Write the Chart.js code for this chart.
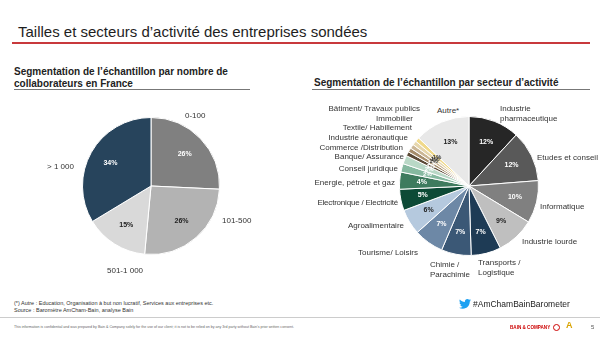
<!DOCTYPE html>
<html>
<head>
<meta charset="utf-8">
<script src="https://cdn.jsdelivr.net/npm/chart.js@4"></script>
<style>
  body{margin:0;width:600px;height:337px;background:#fff;font-family:"Liberation Sans",Arial,sans-serif;position:relative;overflow:hidden;color:#222}
  .abs{position:absolute;white-space:nowrap}
  .lab{position:absolute;white-space:nowrap;font-size:8px;line-height:9.5px;color:#333}
  .r{text-align:right}
  canvas{position:absolute}
</style>
</head>
<body>
<div class="abs" style="left:18px;top:23px;font-size:15px;color:#1e1e1e">Tailles et secteurs d’activité des entreprises sondées</div>
<div class="abs" style="left:12px;top:42px;width:578px;height:1.5px;background:#c8393c"></div>

<div class="abs" style="left:14px;top:66px;font-size:10px;font-weight:bold;line-height:11.5px">Segmentation de l’échantillon par nombre de<br>collaborateurs en France</div>
<div class="abs" style="left:14px;top:89px;width:236px;height:1px;background:#777"></div>
<div class="abs" style="left:314px;top:77px;font-size:10px;font-weight:bold">Segmentation de l’échantillon par secteur d’activité</div>
<div class="abs" style="left:312px;top:89px;width:278px;height:1px;background:#777"></div>

<canvas id="sizePie" width="138" height="138" style="left:82px;top:117px"></canvas>
<canvas id="sectorPie" width="140" height="140" style="left:399px;top:116px"></canvas>

<!-- left pie labels -->
<div class="lab" style="left:185px;top:111px">0-100</div>
<div class="lab" style="left:222px;top:216px">101-500</div>
<div class="lab" style="left:107px;top:266px">501-1 000</div>
<div class="lab" style="left:47px;top:162px">&gt; 1 000</div>

<!-- right pie labels -->
<div class="lab" style="left:437px;top:106px">Autre*</div>
<div class="lab" style="left:500px;top:104px">Industrie<br>pharmaceutique</div>
<div class="lab" style="left:537px;top:153px">Etudes et conseil</div>
<div class="lab" style="left:540px;top:202px">Informatique</div>
<div class="lab" style="left:522px;top:237px">Industrie lourde</div>
<div class="lab" style="left:478px;top:258px">Transports /<br>Logistique</div>
<div class="lab" style="left:430px;top:260px">Chimie /<br>Parachimie</div>
<div class="lab r" style="right:182px;top:248px">Tourisme/ Loisirs</div>
<div class="lab r" style="right:196px;top:221px">Agroalimentaire</div>
<div class="lab r" style="right:202px;top:198px;letter-spacing:-0.2px">Electronique / Electricité</div>
<div class="lab r" style="right:205px;top:178px">Energie, pétrole et gaz</div>
<div class="lab r" style="right:202px;top:164px">Conseil juridique</div>
<div class="lab r" style="right:196px;top:152px">Banque/ Assurance</div>
<div class="lab r" style="right:197px;top:143px">Commerce /Distribution</div>
<div class="lab r" style="right:192px;top:133px">Industrie aéronautique</div>
<div class="lab r" style="right:188px;top:123px">Textile/ Habillement</div>
<div class="lab r" style="right:187px;top:114px">Immobilier</div>
<div class="lab r" style="right:180px;top:104px">Bâtiment/ Travaux publics</div>

<!-- footer -->
<div class="abs" style="left:14px;top:300px;font-size:5.5px;line-height:6.5px;color:#333">(*) Autre : Education, Organisation à but non lucratif, Services aux entreprises etc.<br>Source : Baromètre AmCham-Bain, analyse Bain</div>
<div class="abs" style="left:0;top:317px;width:600px;height:1px;background:#ccc"></div>
<div class="abs" style="left:14px;top:325px;font-size:3.6px;color:#666">This information is confidential and was prepared by Bain &amp; Company solely for the use of our client; it is not to be relied on by any 3rd party without Bain's prior written consent.</div>
<svg class="abs" style="left:459px;top:299px" width="12" height="10" viewBox="0 0 24 20"><path fill="#1da1f2" d="M24 2.4c-.9.4-1.8.6-2.8.8 1-.6 1.8-1.6 2.2-2.7-1 .6-2 1-3.1 1.2C19.3.7 18 .1 16.6.1c-2.7 0-4.9 2.200-4.9 4.9 0 .4 0 .8.1 1.1C7.7 5.9 4.1 4 1.7 1 1.200 1.8 1 2.6 1 3.5c0 1.7.9 3.200 2.200 4.1-.8 0-1.6-.2-2.200-.6v.1c0 2.4 1.7 4.4 3.9 4.8-.4.1-.8.2-1.3.2-.3 0-.6 0-.9-.1.6 2 2.4 3.4 4.6 3.4-1.7 1.3-3.8 2.1-6.1 2.1-.4 0-.8 0-1.200-.1 2.200 1.4 4.8 2.200 7.5 2.200 9.1 0 14-7.5 14-14v-.6c1-.7 1.8-1.6 2.5-2.6z"/></svg>
<div class="abs" style="left:473px;top:299px;font-size:8.5px;color:#222">#AmChamBainBarometer</div>
<div class="abs" style="left:510px;top:325px;font-size:4.6px;font-weight:bold;color:#cc0000">BAIN &amp; COMPANY</div>
<div class="abs" style="left:553px;top:324px;width:5px;height:5px;border:1px solid #cc0000;border-radius:50%"></div>
<div class="abs" style="left:566px;top:320px;font-size:9px;font-weight:bold;color:#d9a300">A</div>
<div class="abs" style="left:591px;top:324px;font-size:6px;color:#555">5</div>

<script>
// --- data: company size ---
const sizeCategories = ['0-100','101-500','501-1 000','> 1 000'];
const sizeValues = [26, 26, 15, 34];

// --- data: sectors (clockwise from 12 o'clock) ---
const sectorCategories = ['Industrie pharmaceutique','Etudes et conseil','Informatique','Industrie lourde',
  'Transports / Logistique','Chimie / Parachimie','Tourisme/ Loisirs','Agroalimentaire',
  'Electronique / Electricité','Energie, pétrole et gaz','Conseil juridique','Banque/ Assurance',
  'Commerce /Distribution','Industrie aéronautique','Textile/ Habillement','Immobilier',
  'Bâtiment/ Travaux publics','Autre*'];
const sectorValues = [12, 12, 10, 9, 7, 7, 7, 6, 5, 4, 2, 2, 1, 1, 1, 1, 1, 13];

// styles
const sizeColors = ['#808080','#b3b3b3','#d9d9d9','#27445c'];
const sizeTextColors = ['#fff','#222','#222','#fff'];
const sectorColors = ['#262626','#595959','#808080','#bfbfbf','#1e3b55','#3b5876','#6d88a6','#b5c9de',
  '#0d4a36','#3e7b5e','#86b9a0','#b9d8c6','#5b4a36','#a68d6b','#cbb796','#e6d6ab','#f0d98a','#e8e8e8'];
const sectorTextColors = ['#fff','#fff','#fff','#222','#fff','#fff','#fff','#222','#fff','#fff',
  '#fff','#fff','#fff','#fff','#333','#333','#333','#222'];

const pctLabels = {
  id: 'pctLabels',
  afterDatasetsDraw(chart, args, opts){
    const ctx = chart.ctx;
    const data = chart.data.datasets[0].data;
    chart.getDatasetMeta(0).data.forEach((arc, i) => {
      const p = arc.getProps(['x','y','startAngle','endAngle','outerRadius'], true);
      const mid = (p.startAngle + p.endAngle) / 2;
      const small = data[i] < 3;
      const r = p.outerRadius * (small ? 0.62 : 0.68);
      ctx.save();
      ctx.font = 'bold ' + (small ? 6 : 7) + 'px "Liberation Sans", Arial, sans-serif';
      ctx.fillStyle = opts.colors[i];
      ctx.textAlign = 'center';
      ctx.textBaseline = 'middle';
      ctx.fillText(data[i] + '%', p.x + Math.cos(mid) * r, p.y + Math.sin(mid) * r);
      ctx.restore();
    });
  }
};

function pie(id, labels, values, colors, textColors){
  new Chart(document.getElementById(id), {
    type: 'pie',
    data: { labels, datasets: [{ data: values, backgroundColor: colors, borderColor: '#fff', borderWidth: 1, hoverOffset: 0 }] },
    options: {
      responsive: false, animation: false,
      layout: { padding: 0 },
      plugins: { legend: { display: false }, tooltip: { enabled: false }, pctLabels: { colors: textColors } }
    },
    plugins: [pctLabels]
  });
}

pie('sizePie', sizeCategories, sizeValues, sizeColors, sizeTextColors);
pie('sectorPie', sectorCategories, sectorValues, sectorColors, sectorTextColors);
</script>
</body>
</html>
